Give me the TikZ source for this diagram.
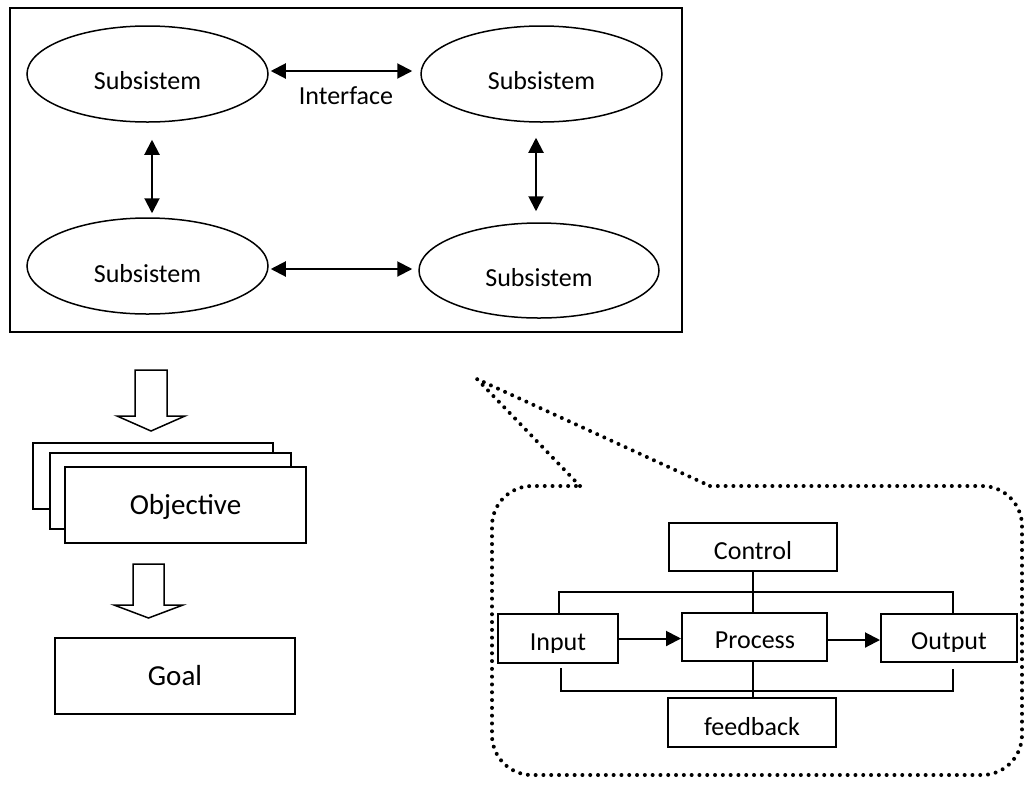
\documentclass[tikz,border=0pt]{standalone}
\usepackage{fontspec}
\setmainfont{Carlito}
\usetikzlibrary{arrows.meta,shapes.geometric}
\begin{document}
\begin{tikzpicture}[x=1pt,y=-1pt,
  sub/.style={draw, ellipse, line width=1.5pt, minimum width=241pt, minimum height=96pt, inner sep=0pt},
  lbl/.style={font=\fontsize{26}{30}\selectfont, anchor=base, inner sep=0pt},
  biglbl/.style={font=\fontsize{29}{34}\selectfont, anchor=base, inner sep=0pt},
  boxed/.style={draw, line width=2pt, fill=white, inner sep=0pt},
  link/.style={line width=2pt, {Triangle[length=15pt,width=15pt]}-{Triangle[length=15pt,width=15pt]}},
  flow/.style={line width=2pt, -{Triangle[length=15pt,width=15pt]}},
  wire/.style={line width=2pt},
  blockarrow/.style={draw, line width=1.5pt, fill=white, line join=miter},
  dotline/.style={line width=4pt, dash pattern=on 0pt off 7.8pt, line cap=round}
]
\useasboundingbox (0,0) rectangle (1024,785);

% system frame with four subsystems
\node[draw, line width=2pt, minimum width=672pt, minimum height=324pt, inner sep=0pt] (frame) at (346,170) {};
\node[sub] (s1) at (147.5,74) {};
\node[sub] (s2) at (541.5,74) {};
\node[sub] (s3) at (147.5,266) {};
\node[sub, minimum width=240pt, minimum height=95pt] (s4) at (539,270.5) {};
\node[lbl] (t1) at (147.5,89) {Subsistem};
\node[lbl] (t2) at (541.5,89) {Subsistem};
\node[lbl] (t3) at (147.5,282) {Subsistem};
\node[lbl] (t4) at (539,286) {Subsistem};
\node[lbl] (iface) at (346,104) {Interface};

% interfaces between subsystems
\draw[link] ([xshift=2pt,yshift=3pt]s1.east) -- ([xshift=-8pt,yshift=3pt]s1.east -| s2.west);
\draw[link] ([xshift=2pt,yshift=-3pt]s3.east) -- ([xshift=-6pt,yshift=-3pt]s3.east -| s4.west);
\draw[link] ([xshift=4.5pt,yshift=-17pt]s1.south) -- ([xshift=4.5pt,yshift=4pt]s3.north);
\draw[link] ([xshift=-5.5pt,yshift=-15pt]s2.south) -- ([xshift=-3pt,yshift=11pt]s4.north);

% objectives and goal
\draw[blockarrow] (135,370) -- (167,370) -- (167,416) -- (185,416) -- (151,431) -- (117,416) -- (135,416) -- cycle;
\node[boxed, minimum width=240pt, minimum height=66pt] (ob3) at (153,476) {};
\node[boxed, minimum width=241pt, minimum height=76pt] (ob2) at (170.5,491) {};
\node[boxed, minimum width=241pt, minimum height=76pt] (ob1) at (185.5,505) {};
\node[biglbl] (obt) at (185.5,514) {Objective};
\draw[blockarrow] (133,564) -- (164,564) -- (164,605) -- (183,605) -- (148.5,618) -- (114,605) -- (133,605) -- cycle;
\node[boxed, minimum width=240pt, minimum height=76pt] (goal) at (175,676) {};
\node[biglbl] (goalt) at (175,685) {Goal};

% callout
\draw[dotline] (580,486) -- (477,379) -- (710,486);
\draw[dotline, rounded corners=40pt] (710,486) -- (1022,486) -- (1022,775) -- (492,775) -- (492,486) -- (580,486);

% input-process-output
\node[boxed, minimum width=168pt, minimum height=48pt] (control) at (753,547) {};
\node[boxed, minimum width=120pt, minimum height=49pt] (input) at (558,638.5) {};
\node[boxed, minimum width=145pt, minimum height=48pt] (process) at (754.5,637) {};
\node[boxed, minimum width=136pt, minimum height=48pt] (output) at (949,638) {};
\node[boxed, minimum width=168pt, minimum height=49pt] (feedback) at (752,722.5) {};
\node[lbl] (ctt) at (753,559) {Control};
\node[lbl] (prt) at (755,648) {Process};
\node[lbl] (fbt) at (752,735) {feedback};
\begin{scope}
  \clip (input.north west) rectangle ([yshift=12pt]input.south east);
  \node[lbl] (int) at (558,650) {Input};
\end{scope}
\begin{scope}
  \clip (output.north west) rectangle ([yshift=12pt]output.south east);
  \node[lbl] (outt) at (949,649) {Output};
\end{scope}

\draw[wire] (control.south) -- (control.south |- process.north);
\draw[wire] (control.south |- process.south) -- (control.south |- feedback.north);
\draw[wire] ([xshift=1pt]input.north) -- ++(0,-21) -| ([xshift=4pt]output.north);
\draw[wire] ([xshift=3pt,yshift=-4pt]input.south) -- ++(0,23) -| ([xshift=4pt,yshift=-6pt]output.south);
\draw[flow] (input.east) -- (process.west |- input.east);
\draw[flow] ([yshift=-3pt]process.east) -- ([yshift=-3pt]process.east -| output.west);
\end{tikzpicture}
\end{document}
